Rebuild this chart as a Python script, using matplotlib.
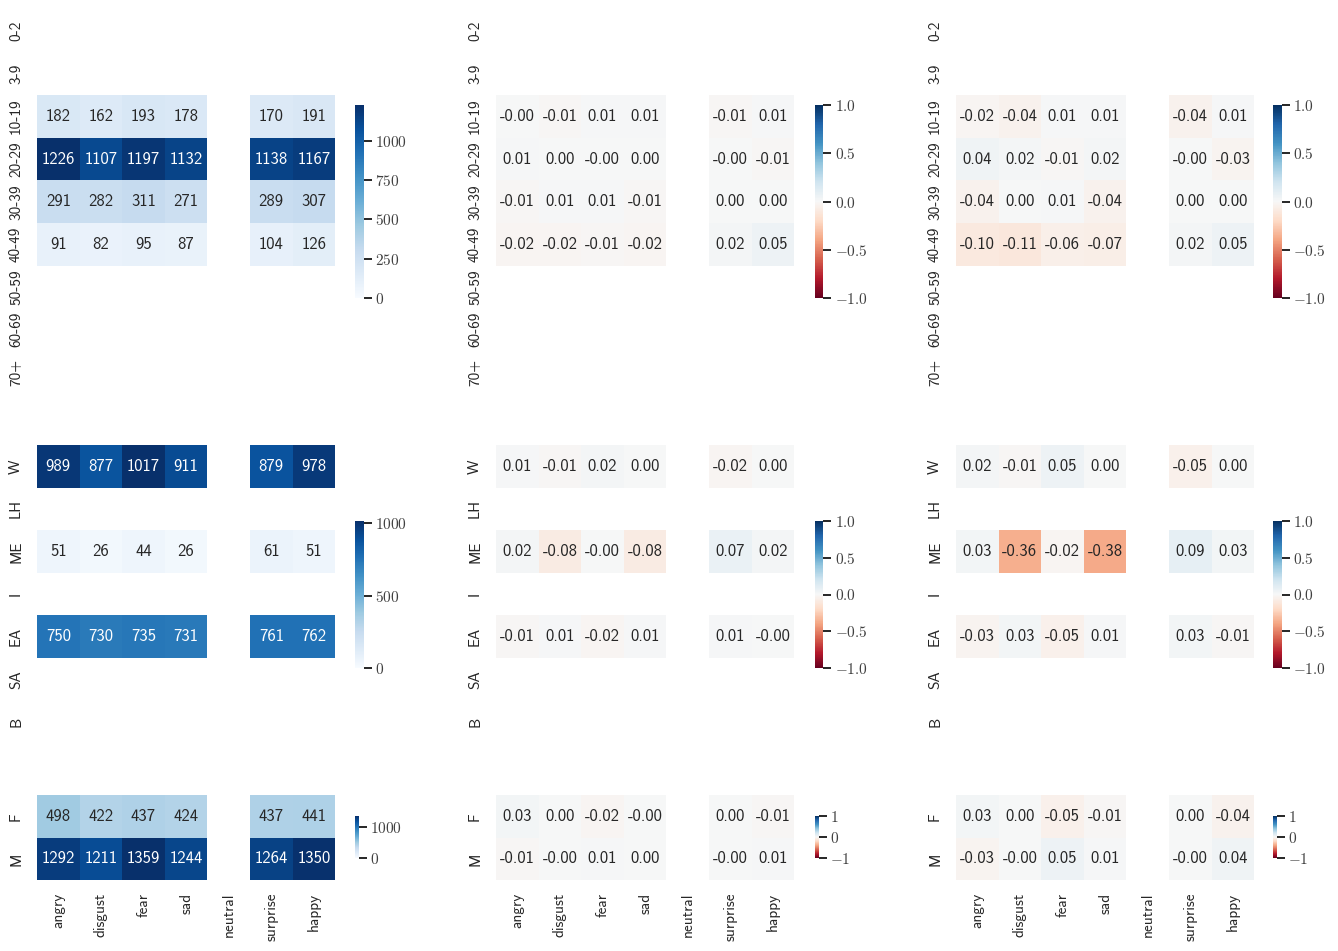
import numpy as np
import pandas as pd
import matplotlib
matplotlib.use("Agg")
import matplotlib.pyplot as plt
import seaborn as sns

nan = np.nan

emotions = ["angry", "disgust", "fear", "sad", "neutral", "surprise", "happy"]
ages = ["0-2", "3-9", "10-19", "20-29", "30-39", "40-49", "50-59", "60-69", "70+"]
races = ["W", "LH", "ME", "I", "EA", "SA", "B"]
genders = ["F", "M"]

E = [nan] * 7

# counts
age_counts = [E, E,
              [182, 162, 193, 178, nan, 170, 191],
              [1226, 1107, 1197, 1132, nan, 1138, 1167],
              [291, 282, 311, 271, nan, 289, 307],
              [91, 82, 95, 87, nan, 104, 126],
              E, E, E]
race_counts = [[989, 877, 1017, 911, nan, 879, 978],
               E,
               [51, 26, 44, 26, nan, 61, 51],
               E,
               [750, 730, 735, 731, nan, 761, 762],
               E, E]
gender_counts = [[498, 422, 437, 424, nan, 437, 441],
                 [1292, 1211, 1359, 1244, nan, 1264, 1350]]

# first difference
age_diff1 = [E, E,
             [-0.0, -0.01, 0.01, 0.01, nan, -0.01, 0.01],
             [0.01, 0.0, -0.0, 0.0, nan, -0.0, -0.01],
             [-0.01, 0.01, 0.01, -0.01, nan, 0.0, 0.0],
             [-0.02, -0.02, -0.01, -0.02, nan, 0.02, 0.05],
             E, E, E]
race_diff1 = [[0.01, -0.01, 0.02, 0.0, nan, -0.02, 0.0],
              E,
              [0.02, -0.08, -0.0, -0.08, nan, 0.07, 0.02],
              E,
              [-0.01, 0.01, -0.02, 0.01, nan, 0.01, -0.0],
              E, E]
gender_diff1 = [[0.03, 0.0, -0.02, -0.0, nan, 0.0, -0.01],
                [-0.01, -0.0, 0.01, 0.0, nan, -0.0, 0.01]]

# second difference
age_diff2 = [E, E,
             [-0.02, -0.04, 0.01, 0.01, nan, -0.04, 0.01],
             [0.04, 0.02, -0.01, 0.02, nan, -0.0, -0.03],
             [-0.04, 0.0, 0.01, -0.04, nan, 0.0, 0.0],
             [-0.10, -0.11, -0.06, -0.07, nan, 0.02, 0.05],
             E, E, E]
race_diff2 = [[0.02, -0.01, 0.05, 0.0, nan, -0.05, 0.0],
              E,
              [0.03, -0.36, -0.02, -0.38, nan, 0.09, 0.03],
              E,
              [-0.03, 0.03, -0.05, 0.01, nan, 0.03, -0.01],
              E, E]
gender_diff2 = [[0.03, 0.0, -0.05, -0.01, nan, 0.0, -0.04],
                [-0.03, -0.0, 0.05, 0.01, nan, -0.0, 0.04]]

count_ticks = [[0, 250, 500, 750, 1000], [0, 500, 1000], [0, 1000]]
diff_ticks = [[-1.0, -0.5, 0.0, 0.5, 1.0], [-1.0, -0.5, 0.0, 0.5, 1.0], [-1, 0, 1]]

sns.set_theme(style="white")
plt.rcParams["font.family"] = ["cmss10", "DejaVu Sans"]
plt.rcParams["mathtext.fontset"] = "cm"
plt.rcParams["axes.unicode_minus"] = False
plt.rcParams["axes.formatter.use_mathtext"] = True

W, H = 1338, 951
fig = plt.figure(figsize=(W / 100, H / 100), dpi=100)


def px_ax(x0, y0, w, h):
    return fig.add_axes([x0 / W, 1 - (y0 + h) / H, w / W, h / H])


cell = 42.6
col_left = [37, 496, 956]
row_top = [10, 445, 795]
row_labels = [ages, races, genders]
cbar_left = [355, 815, 1273]
cbar_y = [(105, 298), (521, 668), (816, 858)]
cbar_w = [8.5, 8.5, 3.5]

tables = [[age_counts, age_diff1, age_diff2],
          [race_counts, race_diff1, race_diff2],
          [gender_counts, gender_diff1, gender_diff2]]


def fmt_tick(v):
    if isinstance(v, float):
        s = f"{v:.1f}"
    else:
        s = f"{v}"
    return "$" + s + "$"


for r in range(3):
    labels = row_labels[r]
    nrows = len(labels)
    for c in range(3):
        ax = px_ax(col_left[c], row_top[r], 7 * cell, nrows * cell)
        y0, y1 = cbar_y[r]
        cax = px_ax(cbar_left[c], y0, cbar_w[r], y1 - y0)
        df = pd.DataFrame(tables[r][c], index=labels, columns=emotions, dtype=float)
        if c == 0:
            kw = dict(cmap="Blues", vmin=0, fmt=".0f")
            ticks = count_ticks[r]
        else:
            kw = dict(cmap="RdBu", vmin=-1, vmax=1, fmt=".2f")
            ticks = diff_ticks[r]
        sns.heatmap(df, ax=ax, cbar_ax=cax, annot=True,
                    annot_kws={"fontsize": 12, "family": "cmss10"},
                    linewidths=0,
                    xticklabels=emotions if r == 2 else False,
                    yticklabels=labels, **kw)
        ax.tick_params(axis="y", length=0, pad=10, labelsize=11, labelcolor=".15")
        ax.tick_params(axis="x", length=0, pad=9, labelsize=11, labelcolor=".15")
        for t in ax.get_yticklabels():
            t.set_rotation(90)
            t.set_va("center")
            t.set_ha("right")
        for t in ax.get_xticklabels():
            t.set_rotation(90)
            t.set_ha("center")
            t.set_va("top")
        cax.set_yticks(ticks)
        cax.set_yticklabels([fmt_tick(t) for t in ticks])
        cax.tick_params(axis="y", length=6, width=1.4, color=".15", pad=2,
                        labelsize=11, labelcolor=".25", right=True, left=False)
        for s in cax.spines.values():
            s.set_visible(False)

fig.savefig("out.png", dpi=100)
